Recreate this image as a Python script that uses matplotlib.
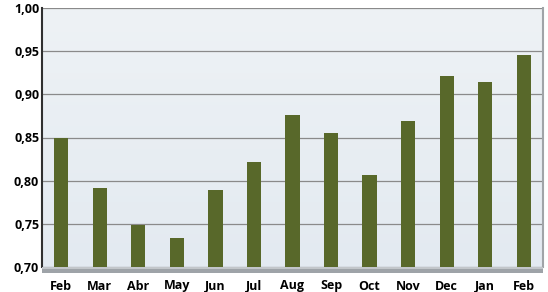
import numpy as np
import matplotlib.pyplot as plt
from matplotlib.patches import Rectangle

# Monthly values
months = ['Feb', 'Mar', 'Abr', 'May', 'Jun', 'Jul', 'Aug', 'Sep', 'Oct', 'Nov', 'Dec', 'Jan', 'Feb']
values = [0.849, 0.791, 0.749, 0.734, 0.789, 0.822, 0.876, 0.855, 0.806, 0.869, 0.921, 0.914, 0.946]
yticks = [0.70, 0.75, 0.80, 0.85, 0.90, 0.95, 1.00]

fig = plt.figure(figsize=(5.48, 2.92), dpi=100)
ax = fig.add_axes([42 / 548, 1 - 267 / 292, 501 / 548, 259 / 292])

# light gradient background for the plot area
grad = np.linspace(0, 1, 256).reshape(-1, 1)
ax.imshow(grad, extent=[0, 1, 0, 1], transform=ax.transAxes, aspect='auto',
          cmap=plt.matplotlib.colors.LinearSegmentedColormap.from_list('bg', ['#e3eaf1', '#eef2f5']),
          origin='lower', zorder=0)

x = np.arange(len(months))
ax.bar(x, [v - 0.70 for v in values], bottom=0.70, width=0.37, color='#58682a', zorder=3)

ax.set_xlim(-0.5, len(months) - 0.5)
ax.set_ylim(0.70, 1.00)
ax.set_yticks(yticks)
ax.set_yticklabels([f'{t:.2f}'.replace('.', ',') for t in yticks])
ax.set_xticks(x)
ax.set_xticklabels(months)
ax.yaxis.grid(True, color='#8a8a8a', linewidth=0.9, zorder=1)
ax.set_axisbelow(True)

for lab in ax.get_xticklabels() + ax.get_yticklabels():
    lab.set_fontfamily('Open Sans')
    lab.set_fontweight('bold')
    lab.set_fontsize(9)
ax.tick_params(axis='both', length=0)
ax.tick_params(axis='x', pad=9)
ax.tick_params(axis='y', pad=2)

for s in ['top', 'bottom']:
    ax.spines[s].set_visible(False)
ax.spines['left'].set_color('#303030')
ax.spines['left'].set_linewidth(1.5)
ax.spines['right'].set_color('#a0a4a8')
ax.spines['right'].set_linewidth(1.5)

# 3d-like floor under the bars
ax.add_patch(Rectangle((0, -0.022), 1.0, 0.022, transform=ax.transAxes, clip_on=False,
                       facecolor='#9ea3a8', edgecolor='none', zorder=4))
ax.add_patch(Rectangle((0, -0.008), 1.0, 0.008, transform=ax.transAxes, clip_on=False,
                       facecolor='#c2c6ca', edgecolor='none', zorder=4))

fig.savefig('out.png', dpi=100)
